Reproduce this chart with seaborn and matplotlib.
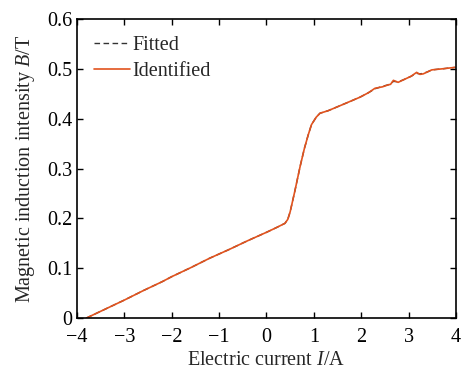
import matplotlib
matplotlib.use("Agg")
import matplotlib.pyplot as plt
import seaborn as sns
import pandas as pd

current = [-3.8, -3.4, -3.0, -2.6, -2.2, -2.0, -1.6, -1.2, -0.8, -0.4, 0.0, 0.2, 0.39,
           0.45, 0.50, 0.60, 0.71, 0.80, 0.88, 0.95, 0.99, 1.05, 1.13, 1.30, 1.60, 1.97,
           2.15, 2.29, 2.45, 2.57, 2.62, 2.68, 2.78, 2.89, 3.05, 3.17, 3.24, 3.31, 3.40,
           3.49, 3.70, 3.98]
field_identified = [0.000, 0.018, 0.036, 0.055, 0.073, 0.083, 0.101, 0.120, 0.137, 0.155,
                    0.172, 0.181, 0.190, 0.198, 0.213, 0.255, 0.304, 0.340, 0.367, 0.388,
                    0.394, 0.403, 0.411, 0.416, 0.428, 0.443, 0.452, 0.461, 0.464, 0.468,
                    0.469, 0.477, 0.473, 0.478, 0.485, 0.493, 0.489, 0.490, 0.494, 0.498,
                    0.500, 0.503]
field_fitted = [0.000, 0.018, 0.036, 0.055, 0.073, 0.083, 0.101, 0.120, 0.137, 0.155,
                0.172, 0.181, 0.190, 0.198, 0.213, 0.255, 0.304, 0.340, 0.367, 0.388,
                0.394, 0.403, 0.411, 0.416, 0.428, 0.443, 0.452, 0.460, 0.465, 0.468,
                0.470, 0.475, 0.474, 0.478, 0.485, 0.491, 0.490, 0.491, 0.494, 0.498,
                0.500, 0.503]
x_ticks = [-4, -3, -2, -1, 0, 1, 2, 3, 4]
y_ticks = [0, 0.1, 0.2, 0.3, 0.4, 0.5, 0.6]
y_tick_labels = ["0", "0.1", "0.2", "0.3", "0.4", "0.5", "0.6"]

sns.set_style("ticks")
plt.rcParams["font.family"] = ["Liberation Serif", "DejaVu Serif"]
plt.rcParams["mathtext.fontset"] = "custom"
plt.rcParams["mathtext.it"] = "Liberation Serif:italic"
plt.rcParams["mathtext.rm"] = "Liberation Serif"

df = pd.DataFrame({"I": current, "fit": field_fitted, "ident": field_identified})

fig = plt.figure(figsize=(4.61, 3.70), dpi=100)
ax = fig.add_axes([0.167, 0.1405, 0.822, 0.808])

sns.lineplot(data=df, x="I", y="fit", ax=ax, color="#333333", linestyle=(0, (4, 2.5)),
             linewidth=1.0, label="Fitted")
sns.lineplot(data=df, x="I", y="ident", ax=ax, color="#e2531e", linewidth=1.2,
             label="Identified")

ax.set_xlim(-4, 4)
ax.set_ylim(0, 0.6)
ax.set_xticks(x_ticks)
ax.set_xticklabels([("\u2212" + str(-t)) if t < 0 else str(t) for t in x_ticks])
ax.set_yticks(y_ticks)
ax.set_yticklabels(y_tick_labels)
ax.tick_params(direction="in", top=True, right=True, length=4, width=1,
               labelsize=14.5, colors="black")
ax.tick_params(axis="x", pad=7)
for s in ax.spines.values():
    s.set_visible(True)
    s.set_linewidth(1.2)
    s.set_color("black")

ax.set_xlabel("Electric current $I$/A", fontsize=14.5, labelpad=3)
ax.set_ylabel("Magnetic induction intensity $B$/T", fontsize=14.5, labelpad=7)

leg = ax.legend(loc="upper left", frameon=False, fontsize=14.5, handlelength=1.8,
                handletextpad=0.1, borderaxespad=0.45, labelspacing=0.35)

fig.savefig("out.png", dpi=100)
